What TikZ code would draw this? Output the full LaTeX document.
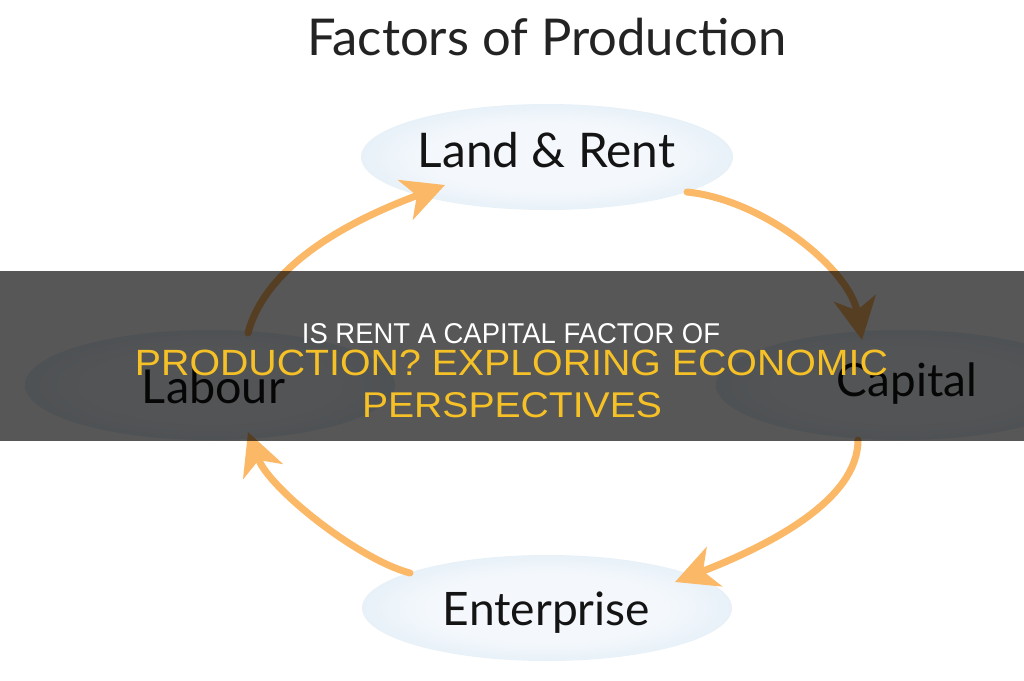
\documentclass[tikz,border=0pt]{standalone}
\usepackage{fontspec}
\usepackage{graphicx}
\setmainfont{Liberation Sans}
\newfontfamily\gillfont{Lato}
\usetikzlibrary{shapes.geometric,arrows.meta,calc}
\definecolor{ellin}{RGB}{244,248,252}
\definecolor{ellout}{RGB}{198,221,238}
\definecolor{arroworange}{RGB}{251,184,102}
\definecolor{banneryellow}{RGB}{246,193,38}
\definecolor{titlegray}{RGB}{35,35,35}
\pgfdeclareradialshading{ellshade}{\pgfpoint{0bp}{0bp}}{color(0bp)=(ellin); color(16bp)=(ellin); color(50bp)=(ellout)}
\begin{document}
\begin{tikzpicture}[x=1pt,y=-1pt,
  factor/.style={ellipse, shading=ellshade, draw=none, inner sep=0pt, outer sep=0pt},
  lbl/.style={font=\gillfont, text=black!92, anchor=base, inner sep=0pt},
  cyc/.style={draw=arroworange, line width=7pt, line cap=round,
    -{Stealth[length=42pt,width=42pt,inset=12pt]}},
  bannertext/.style={font=\rmfamily, anchor=base, inner sep=0pt}]
\useasboundingbox (0,0) rectangle (1024,680);
\clip (0,0) rectangle (1024,680);
\fill[white] (0,0) rectangle (1024,680);

% title
\node[lbl, text=titlegray] (title) at (547,55) {\resizebox{479pt}{!}{Factors of Production}};

% factor ellipses
\node[factor, minimum width=372pt, minimum height=106pt] (land) at (547,157) {};
\node[factor, minimum width=372pt, minimum height=110pt] (cap) at (902,385) {};
\node[factor, minimum width=370pt, minimum height=110pt] (lab) at (210,385) {};
\node[factor, minimum width=370pt, minimum height=106pt] (ent) at (547,608) {};

\node[lbl] (landt) at (546.5,167) {\resizebox{257pt}{!}{Land \& Rent}};
\node[lbl] (capt) at (907,396) {\resizebox{140pt}{!}{Capital}};
\node[lbl] (labt) at (213.5,403) {\resizebox{143pt}{!}{Labour}};
\node[lbl] (entt) at (546.5,625) {\resizebox{207pt}{!}{Enterprise}};

% cycle arrows
\draw[cyc] ($(lab.center)+(38,-52)$) .. controls (268,258) and (365,215) .. ($(land.center)+(-102,28)$);
\draw[cyc] ($(land.center)+(140,35)$) .. controls (765,200) and (850,270) .. ($(cap.center)+(-40,-45)$);
\draw[cyc] ($(cap.center)+(-44,55)$) .. controls (858,500) and (770,545) .. ($(ent.center)+(128,-26)$);
\draw[cyc] ($(ent.center)+(-137,-35)$) .. controls (360,560) and (270,490) .. ($(lab.center)+(38,47)$);

% banner
\fill[black, opacity=0.66] (0,271) rectangle (1024,441);
\node[bannertext, text=white] (b1) at (511,343) {\resizebox{418pt}{20pt}{IS RENT A CAPITAL FACTOR OF}};
\node[bannertext, text=banneryellow] (b2) at (511.5,375) {\resizebox{753pt}{25.5pt}{PRODUCTION? EXPLORING ECONOMIC}};
\node[bannertext, text=banneryellow] (b3) at (512,417) {\resizebox{300pt}{25pt}{PERSPECTIVES}};
\end{tikzpicture}
\end{document}
